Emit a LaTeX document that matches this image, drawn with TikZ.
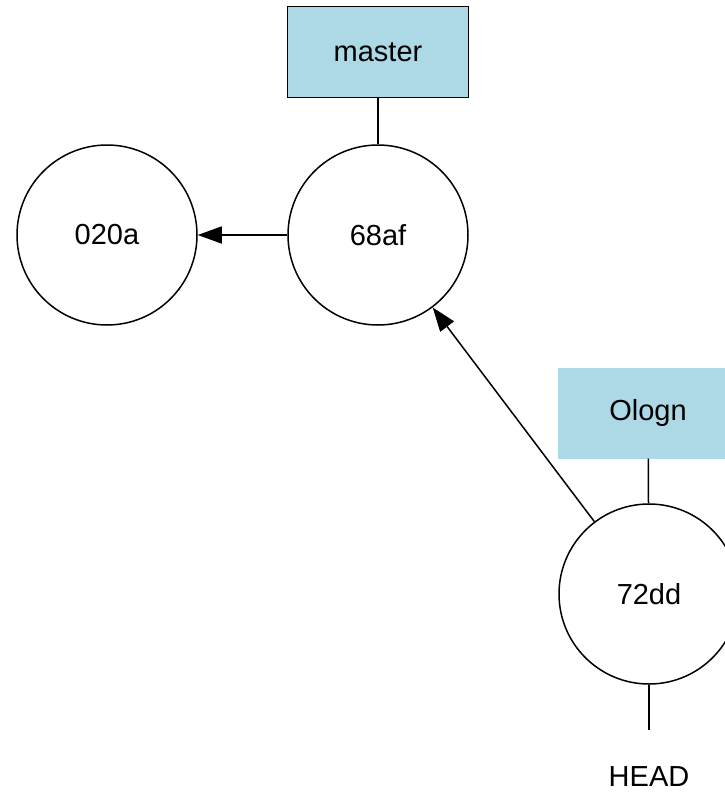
\documentclass[tikz,border=0pt]{standalone}
\usepackage{fontspec}
\setmainfont{Liberation Sans}
\usetikzlibrary{arrows.meta}
\definecolor{branchblue}{HTML}{ADD8E6}
\begin{document}
\begin{tikzpicture}[x=1pt,y=-1pt,
  every node/.style={font=\fontsize{29}{34}\selectfont},
  commit/.style={circle,draw=black,line width=1.5pt,minimum size=180pt,inner sep=0pt},
  branch/.style={rectangle,fill=branchblue,minimum width=181pt,minimum height=91pt,inner sep=0pt},
  link/.style={line width=1.5pt},
  parent/.style={line width=1.5pt,-{Triangle[length=24pt,width=17pt]}}]
  \useasboundingbox (0,0) rectangle (725,795);
  % commits
  \node[commit] (c020a) at (107,235) {020a};
  \node[commit] (c68af) at (378,235) {68af};
  \node[commit] (c72dd) at (649,594) {72dd};
  % branch labels
  \node[branch,draw=black,line width=1.5pt] (master) at (378,52) {master};
  \node[branch] (ologn) at (648,413) {Ologn};
  % HEAD
  \node (head) at (649,777) {HEAD};
  \coordinate (headtop) at (649,730);
  % connectors
  \draw[link] (master) -- (c68af);
  \draw[link] (ologn) -- (c72dd);
  \draw[link] (c72dd) -- (headtop);
  \draw[parent] (c68af) -- (c020a);
  \draw[parent] (c72dd) -- (c68af);
\end{tikzpicture}
\end{document}
